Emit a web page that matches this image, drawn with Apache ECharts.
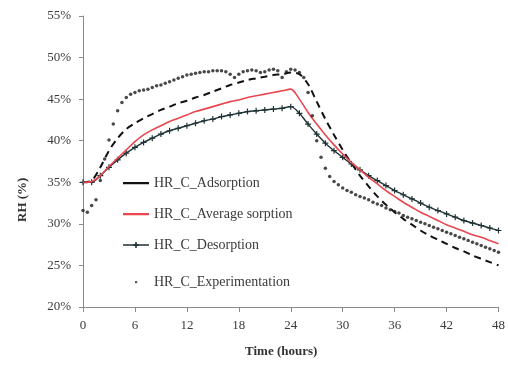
<!DOCTYPE html>
<html>
<head>
<meta charset="utf-8">
<script src="https://cdn.jsdelivr.net/npm/echarts@6/dist/echarts.min.js"></script>
<style>
  html, body { margin: 0; padding: 0; background: #fff; }
  #chart { width: 508px; height: 365px; }
</style>
</head>
<body>
<div id="chart"></div>
<script>
// Hourly model curves, relative humidity in %
const hours = [0,1,2,3,4,5,6,7,8,9,10,11,12,13,14,15,16,17,18,19,20,21,22,23,24,
  25,26,27,28,29,30,31,32,33,34,35,36,37,38,39,40,41,42,43,44,45,46,47,48];

const adsorption = [35.0,35.2,36.8,38.8,40.3,41.4,42.1,42.7,43.2,43.7,44.1,44.5,44.8,45.2,45.5,45.9,46.3,46.7,47.0,47.3,47.5,47.7,47.9,48.0,48.2,
  48.0,46.8,44.7,42.6,40.7,38.9,37.3,35.8,34.5,33.3,32.3,31.4,30.6,29.9,29.2,28.6,28.1,27.6,27.1,26.7,26.2,25.8,25.4,25.0];

const averageSorption = [35.0,35.1,35.8,36.9,37.9,38.9,39.9,40.7,41.3,41.8,42.3,42.7,43.1,43.5,43.8,44.1,44.4,44.7,44.9,45.2,45.4,45.6,45.8,46.0,46.2,
  45.0,43.4,42.0,40.7,39.5,38.4,37.4,36.5,35.6,34.8,34.0,33.3,32.6,32.0,31.4,30.9,30.4,29.9,29.5,29.1,28.7,28.4,28.0,27.6];

const desorption = [35.0,35.0,35.8,36.8,37.7,38.5,39.2,39.8,40.3,40.8,41.2,41.5,41.8,42.1,42.4,42.6,42.9,43.1,43.3,43.5,43.6,43.7,43.8,43.9,44.1,
  43.3,42.0,40.8,39.7,38.8,38.0,37.2,36.5,35.8,35.2,34.6,34.0,33.5,33.0,32.5,32.0,31.6,31.2,30.8,30.4,30.1,29.8,29.5,29.2];

// Measured values every half hour
const expHours = [0,0.5,1,1.5,2,2.5,3,3.5,4,4.5,5,5.5,6,6.5,7,7.5,8,8.5,9,9.5,10,10.5,11,11.5,12,12.5,13,13.5,14,14.5,15,15.5,16,16.5,17,17.5,18,18.5,19,19.5,20,20.5,21,21.5,22,22.5,23,23.5,24,
  24.5,25,25.5,26,26.5,27,27.5,28,28.5,29,29.5,30,30.5,31,31.5,32,32.5,33,33.5,34,34.5,35,35.5,36,36.5,37,37.5,38,38.5,39,39.5,40,40.5,41,41.5,42,42.5,43,43.5,44,44.5,45,45.5,46,46.5,47,47.5,48];

const experimentation = [31.6,31.4,32.2,32.9,35.2,37.8,40.1,42.0,43.6,44.6,45.2,45.6,45.8,46.0,46.1,46.2,46.4,46.6,46.7,46.9,47.1,47.3,47.5,47.7,47.9,48.0,48.1,48.2,48.3,48.3,48.4,48.4,48.4,48.3,48.0,47.6,48.0,48.3,48.4,48.5,48.4,48.2,48.3,48.5,48.6,48.4,47.6,48.3,48.6,
  48.5,48.2,47.6,45.8,43.0,40.0,38.0,36.7,35.7,35.1,34.7,34.3,34.0,33.8,33.5,33.3,33.1,32.9,32.6,32.4,32.2,31.9,31.7,31.5,31.3,31.0,30.8,30.6,30.4,30.2,30.0,29.8,29.6,29.4,29.2,29.0,28.8,28.6,28.4,28.2,28.0,27.8,27.6,27.4,27.2,27.0,26.8,26.6];

const xTicks = [0, 6, 12, 18, 24, 30, 36, 42, 48];
const yTicks = [20, 25, 30, 35, 40, 45, 50, 55];

const pairs = (xs, ys) => xs.map((x, i) => [x, ys[i]]);

const serif = 'Liberation Serif';
const plus = 'path://M4,0H6V4H10V6H6V10H4V6H0V4H4Z';

// Legend swatches drawn in a 26x12 box (tiny corner squares pin the box size)
const box = 'M0,0h0.01v0.01h-0.01z M25.99,11.99h0.01v0.01h-0.01z ';
const iconLine = 'path://' + box + 'M0,5h26v2.2h-26z';
const iconPlusLine = 'path://' + box + 'M0,5.3h26v1.5h-26z M12.2,3h1.6v6h-1.6z M10.5,5h5v2h-5z';
const iconDot = 'path://' + box + 'M12,5h2.2v2.2h-2.2z';

const legendBase = {
  orient: 'vertical',
  left: 118,
  itemWidth: 26,
  itemHeight: 12,
  itemGap: 17,
  textStyle: { fontFamily: serif, fontSize: 14, color: '#3a3a3a' }
};

const chart = echarts.init(document.getElementById('chart'), null, { renderer: 'canvas' });

chart.setOption({
  animation: false,
  backgroundColor: '#ffffff',
  grid: { left: 83, right: 9, top: 16, bottom: 58, containLabel: false },
  xAxis: {
    type: 'value',
    min: xTicks[0],
    max: xTicks[xTicks.length - 1],
    interval: 6,
    axisLine: { lineStyle: { color: '#8a8a8a', width: 1 } },
    axisTick: { show: true, length: 5, lineStyle: { color: '#8a8a8a' } },
    splitLine: { show: false },
    axisLabel: { color: '#3a3a3a', fontFamily: serif, fontSize: 13, margin: 12 }
  },
  yAxis: {
    type: 'value',
    min: yTicks[0],
    max: yTicks[yTicks.length - 1],
    interval: 5,
    axisLine: { show: true, lineStyle: { color: '#8a8a8a', width: 1 } },
    axisTick: { show: true, length: 4, lineStyle: { color: '#8a8a8a' } },
    splitLine: { show: false },
    axisLabel: { color: '#3a3a3a', fontFamily: serif, fontSize: 13, margin: 12,
      formatter: v => v + '%' }
  },
  legend: [
    Object.assign({}, legendBase, {
      top: 171,
      data: [
        { name: 'HR_C_Adsorption', icon: iconLine, itemStyle: { color: '#111111', borderWidth: 0 } },
        { name: 'HR_C_Average sorption', icon: iconLine, itemStyle: { color: '#e8474f', borderWidth: 0 } },
        { name: 'HR_C_Desorption', icon: iconPlusLine, itemStyle: { color: '#1f3236', borderWidth: 0 } }
      ]
    }),
    Object.assign({}, legendBase, {
      top: 270,
      data: [
        { name: 'HR_C_Experimentation', icon: iconDot, itemStyle: { color: '#333333', borderWidth: 0 } }
      ]
    })
  ],
  series: [
    {
      name: 'HR_C_Adsorption',
      type: 'line',
      data: pairs(hours, adsorption),
      symbol: 'none',
      smooth: 0.3,
      lineStyle: { color: '#111111', width: 2, type: [7, 5] },
      itemStyle: { color: '#111111' },
      z: 3
    },
    {
      name: 'HR_C_Average sorption',
      type: 'line',
      data: pairs(hours, averageSorption),
      symbol: 'none',
      smooth: 0.3,
      lineStyle: { color: '#e8474f', width: 1.6 },
      itemStyle: { color: '#e8474f' },
      z: 4
    },
    {
      name: 'HR_C_Desorption',
      type: 'line',
      data: pairs(hours, desorption),
      symbol: plus,
      symbolSize: 6,
      showAllSymbol: true,
      smooth: 0.3,
      lineStyle: { color: '#1f3236', width: 1.4 },
      itemStyle: { color: '#1f3236' },
      z: 3
    },
    {
      name: 'HR_C_Experimentation',
      type: 'scatter',
      data: pairs(expHours, experimentation),
      symbol: 'circle',
      symbolSize: 3.5,
      itemStyle: { color: '#1a1a1a' },
      z: 5
    }
  ],
  graphic: [
    {
      type: 'text',
      left: 245,
      top: 345,
      style: { text: 'Time (hours)', font: 'bold 13px "Liberation Serif"', fill: '#333333' }
    },
    {
      type: 'text',
      x: 16,
      y: 222,
      rotation: Math.PI / 2,
      style: { text: 'RH (%)', font: 'bold 13px "Liberation Serif"', fill: '#333333' }
    }
  ]
});
</script>
</body>
</html>
